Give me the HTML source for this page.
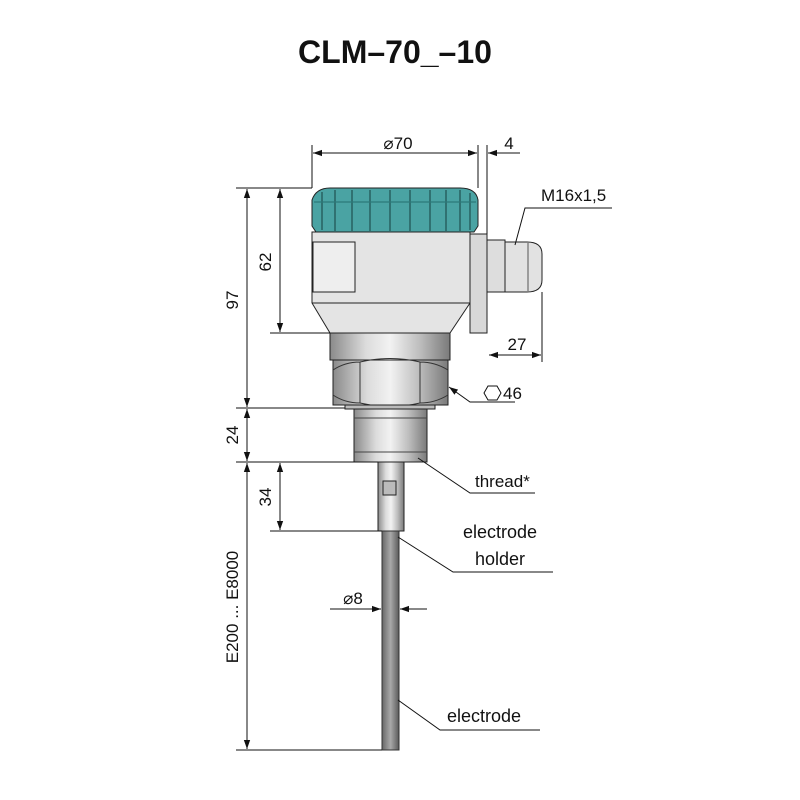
<!DOCTYPE html>
<html><head><meta charset="utf-8"><style>
html,body{margin:0;padding:0;background:#fff;}
svg{display:block;}
text{font-family:"Liberation Sans",sans-serif;fill:#111;}
</style></head><body>
<svg width="800" height="800" viewBox="0 0 800 800" xmlns="http://www.w3.org/2000/svg">
<defs>
<linearGradient id="met" x1="0" x2="1" y1="0" y2="0">
<stop offset="0" stop-color="#8a8a8a"/><stop offset="0.3" stop-color="#dcdcdc"/><stop offset="0.5" stop-color="#f2f2f2"/><stop offset="0.75" stop-color="#bdbdbd"/><stop offset="1" stop-color="#7a7a7a"/>
</linearGradient>
<linearGradient id="rod" x1="0" x2="1"><stop offset="0" stop-color="#666"/><stop offset="0.5" stop-color="#a9a9a9"/><stop offset="1" stop-color="#5a5a5a"/></linearGradient>
<marker id="a" viewBox="0 0 10 10" refX="10" refY="5" markerWidth="9" markerHeight="9" orient="auto-start-reverse" markerUnits="userSpaceOnUse"><path d="M0,1.5 L10,5 L0,8.5 z" fill="#111"/></marker>
</defs>
<text x="395" y="63" font-size="32" font-weight="bold" text-anchor="middle">CLM–70_–10</text>

<!-- housing -->
<rect x="470" y="234" width="17" height="99" fill="#d8d8d8" stroke="#222" stroke-width="1"/>
<rect x="487" y="240" width="18" height="52" fill="#ddd" stroke="#222"/>
<path d="M505,242 h22 q15,0 15,12 v26 q0,12 -15,12 h-22 z" fill="#e2e2e2" stroke="#222"/>
<line x1="528" y1="243" x2="528" y2="291" stroke="#555"/>
<path d="M312,232 H470 V303 L450,333 H330 L312,303 Z" fill="#e4e4e4" stroke="#222"/>
<line x1="312" y1="303" x2="470" y2="303" stroke="#222"/>
<rect x="313" y="242" width="42" height="50" fill="#eee" stroke="#222"/>
<path d="M312,200 Q316,188 330,188 H460 Q476,188 478,200 V226 L474,232 H316 L312,226 Z" fill="#4aa3a3" stroke="#222"/>
<g stroke="#1e5050" stroke-width="1.2">
<line x1="322" y1="192" x2="322" y2="230"/><line x1="335" y1="190" x2="335" y2="231"/><line x1="352" y1="190" x2="352" y2="231"/><line x1="370" y1="190" x2="370" y2="231"/><line x1="390" y1="190" x2="390" y2="231"/><line x1="410" y1="190" x2="410" y2="231"/><line x1="430" y1="190" x2="430" y2="231"/><line x1="446" y1="190" x2="446" y2="231"/><line x1="460" y1="190" x2="460" y2="231"/><line x1="470" y1="193" x2="470" y2="230"/>
<line x1="314" y1="202" x2="476" y2="202" stroke="#2c7a7a"/>
</g>
<!-- neck + nut -->
<rect x="330" y="333" width="120" height="27" fill="url(#met)" stroke="#222"/>
<rect x="333" y="360" width="115" height="45" fill="url(#met)" stroke="#222"/>
<path d="M360,362 Q390,355 420,362 M360,403 Q390,410 420,403 M360,362 V403 M420,362 V403 M333,370 Q345,362 360,362 M420,362 Q435,362 448,370 M333,395 Q345,403 360,403 M420,403 Q435,403 448,395" fill="none" stroke="#333"/>
<rect x="345" y="405" width="90" height="4" fill="#bbb" stroke="#222"/>
<!-- adapter -->
<rect x="354" y="409" width="73" height="53" fill="url(#met)" stroke="#222"/>
<line x1="354" y1="418" x2="427" y2="418" stroke="#444"/><line x1="354" y1="452" x2="427" y2="452" stroke="#444"/>
<rect x="378" y="462" width="26" height="69" fill="url(#met)" stroke="#222"/>
<rect x="383" y="481" width="13" height="14" fill="#bbb" stroke="#222"/>
<rect x="382" y="531" width="17" height="219" fill="url(#rod)" stroke="#333"/>

<!-- dimension lines -->
<g stroke="#111" stroke-width="1" fill="none">
<line x1="312" y1="145" x2="312" y2="188"/><line x1="478" y1="145" x2="478" y2="188"/><line x1="487" y1="145" x2="487" y2="234"/>
<line x1="313" y1="153" x2="477" y2="153" marker-start="url(#a)" marker-end="url(#a)"/>
<line x1="520" y1="153" x2="488" y2="153" marker-end="url(#a)"/>
<line x1="236" y1="188" x2="312" y2="188"/><line x1="270" y1="333" x2="330" y2="333"/>
<line x1="236" y1="408" x2="345" y2="408"/><line x1="236" y1="462" x2="378" y2="462"/><line x1="270" y1="531" x2="382" y2="531"/><line x1="236" y1="750" x2="382" y2="750"/>
<line x1="247" y1="189" x2="247" y2="407" marker-start="url(#a)" marker-end="url(#a)"/>
<line x1="280" y1="189" x2="280" y2="332" marker-start="url(#a)" marker-end="url(#a)"/>
<line x1="247" y1="409" x2="247" y2="461" marker-start="url(#a)" marker-end="url(#a)"/>
<line x1="247" y1="463" x2="247" y2="749" marker-start="url(#a)" marker-end="url(#a)"/>
<line x1="280" y1="463" x2="280" y2="530" marker-start="url(#a)" marker-end="url(#a)"/>
<line x1="542" y1="292" x2="542" y2="362"/>
<line x1="489" y1="355" x2="541" y2="355" marker-start="url(#a)" marker-end="url(#a)"/>
<line x1="330" y1="609" x2="381" y2="609" marker-end="url(#a)"/><line x1="427" y1="609" x2="400" y2="609" marker-end="url(#a)"/>
<polyline points="515,245 525,208 612,208"/>
<polyline points="515,402 470,402 449,387" marker-end="url(#a)"/>
<polyline points="418,458 470,493 535,493"/>
<polyline points="398,537 453,572 553,572"/>
<polyline points="398,700 440,730 540,730"/>
<polygon points="488,386 497,386 501,393 497,400 488,400 484,393"/>
</g>
<g font-size="17">
<text x="398" y="149" text-anchor="middle">⌀70</text>
<text x="509" y="149" text-anchor="middle">4</text>
<text x="541" y="201">M16x1,5</text>
<text x="517" y="350" text-anchor="middle">27</text>
<text x="503" y="399">46</text>
<text x="475" y="487">thread*</text>
<text x="500" y="538" text-anchor="middle" font-size="18">electrode</text>
<text x="500" y="565" text-anchor="middle" font-size="18">holder</text>
<text x="484" y="722" text-anchor="middle" font-size="18">electrode</text>
<text x="353" y="604" text-anchor="middle">⌀8</text>
<text transform="translate(238,300) rotate(-90)" text-anchor="middle">97</text>
<text transform="translate(271,262) rotate(-90)" text-anchor="middle">62</text>
<text transform="translate(238,435) rotate(-90)" text-anchor="middle">24</text>
<text transform="translate(271,497) rotate(-90)" text-anchor="middle">34</text>
<text transform="translate(238,607) rotate(-90)" text-anchor="middle">E200 ... E8000</text>
</g>
</svg>
</body></html>
